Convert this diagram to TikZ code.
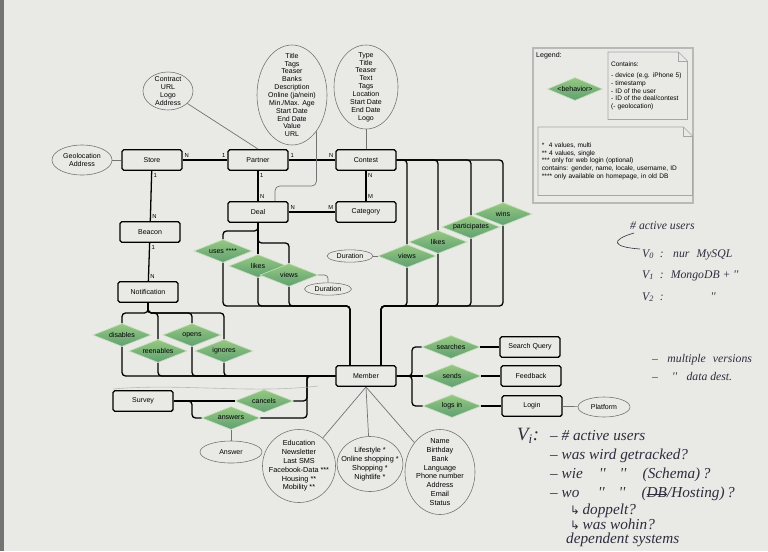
\documentclass[tikz,border=0pt]{standalone}
\usepackage{fontspec}
\setmainfont{Liberation Sans}
\newfontfamily\handfont{Liberation Serif}
\newfontfamily\symfont{DejaVu Sans}
\usetikzlibrary{shapes.geometric,calc}
\definecolor{paper}{RGB}{233,233,230}
\definecolor{relTop}{RGB}{150,200,128}
\definecolor{relBot}{RGB}{96,160,116}
\definecolor{attrLine}{RGB}{115,115,115}
\definecolor{ink}{RGB}{45,45,62}
\tikzset{
  entity/.style={draw, line width=1.1pt, rounded corners=1.5pt, minimum width=1.8cm, minimum height=0.62cm, inner sep=0pt},
  rel/.style={diamond, aspect=2.5, inner sep=0pt, minimum width=1.74cm, minimum height=0.69cm, top color=relTop, bottom color=relBot, draw=relTop!55!white, line width=0.5pt},
  attr/.style={ellipse, draw=attrLine, line width=0.5pt, inner sep=0pt},
  attrtxt/.style={align=center, inner sep=0pt},
  conn/.style={line width=1.1pt, rounded corners=3pt},
  aline/.style={draw=attrLine, line width=0.6pt},
  card/.style={font=\fontsize{5}{5}\selectfont, inner sep=1.2pt},
  note/.style={anchor=north west, align=left, inner xsep=0.07cm, font=\fontsize{5.6}{6.5}\selectfont},
  notefr/.style={draw=gray!70, line width=0.5pt},
  hand/.style={font=\handfont\itshape\fontsize{10}{10}\selectfont, text=ink, anchor=base west, inner sep=0pt},
  bighand/.style={hand, font=\handfont\itshape\fontsize{13}{13}\selectfont},
}
\newcommand\dogear[1]{%
  \draw[notefr] (#1.north west) -- ([xshift=-0.27cm]#1.north east) -- ([yshift=-0.27cm]#1.north east) -- (#1.south east) -- (#1.south west) -- cycle;
  \draw[notefr] ([xshift=-0.27cm]#1.north east) |- ([yshift=-0.27cm]#1.north east);}
\newcommand\crossout[1]{{\setbox0\hbox{#1}\rlap{\copy0}\rule[0.3ex]{\wd0}{0.8pt}}}

\begin{document}
\begin{tikzpicture}[x=0.03cm,y=-0.03cm,font=\fontsize{6}{6.7}\selectfont]
\useasboundingbox (0,0) rectangle (768,551);
\fill[paper] (0,0) rectangle (768,551);
\fill[black!55] (0,0) rectangle (4,551);

\foreach \n/\x/\y/\t in {store/152/160/Store, partner/258/160/Partner, contest/366/160/Contest,
  deal/258/212/Deal, category/366/212/Category, beacon/150/232/Beacon, notif/148/292/Notification,
  member/366/376/Member, survey/143/401/Survey, squery/530/347/Search Query,
  feedback/531/376/Feedback, login/532/406/Login}
  \node[entity] (\n) at (\x,\y) {\t};

\foreach \n/\x/\y/\t in {duses/223/251/{uses ****}, dlikes/258/266/likes, dviews/289/275/views,
  cviews/407/256/views, clikes/438/242/likes, cpart/471/227/participates, cwins/503/214/wins,
  ndis/122/335/disables, nren/158/351/reenables, nopen/192/335/opens, nign/224/351/ignores,
  scancel/264/401/cancels, sans/231/418/answers,
  msearch/451/347/searches, msend/452/376/sends, mlogin/452/406/logs in}
  \node[rel] (\n) at (\x,\y) {\t};

\node[attr, minimum width=1.8cm, minimum height=0.9cm, label={[attrtxt]center:{Geolocation\\Address}}] (geo) at (82,160) {};
\node[attr, minimum width=1.5cm, minimum height=1.14cm, label={[attrtxt]center:{Contract\\URL\\Logo\\Address}}] (contract) at (168,91) {};
\node[attr, minimum width=2.1cm, minimum height=3cm, label={[attrtxt]center:{Title\\Tags\\Teaser\\Banks\\Description\\Online (ja/nein)\\Min./Max. Age\\Start Date\\End Date\\Value\\URL}}] (dattr) at (292,95) {};
\node[attr, minimum width=1.92cm, minimum height=2.52cm, label={[attrtxt]center:{Type\\Title\\Teaser\\Text\\Tags\\Location\\Start Date\\End Date\\Logo}}] (cattr) at (366,87) {};
\node[attr, minimum width=1.38cm, minimum height=0.37cm] (cdur) at (350,256) {Duration};
\node[attr, minimum width=1.41cm, minimum height=0.37cm] (ddur) at (328,289) {Duration};
\node[attr, minimum width=1.56cm, minimum height=0.6cm] (platform) at (604,407) {Platform};
\node[attr, minimum width=1.86cm, minimum height=0.66cm] (answer) at (231,452) {Answer};
\node[attr, minimum width=2.19cm, minimum height=2.19cm, label={[attrtxt, font=\fontsize{6.2}{7.5}\selectfont]center:{Education\\Newsletter\\Last SMS\\Facebook-Data ***\\Housing **\\Mobility **}}] (edu) at (299,466) {};
\node[attr, minimum width=1.98cm, minimum height=1.65cm, label={[attrtxt, font=\fontsize{6.2}{7.5}\selectfont]center:{Lifestyle *\\Online shopping *\\Shopping *\\Nightlife *}}] (life) at (370,464) {};
\node[attr, minimum width=2.1cm, minimum height=2.55cm, label={[attrtxt, font=\fontsize{6.2}{7.5}\selectfont]center:{Name\\Birthday\\Bank\\Language\\Phone number\\Address\\Email\\Status}}] (pers) at (440,472) {};

\draw[conn] (store) -- node[card, above right, pos=0] {N} node[card, above left, pos=1] {1} (partner);
\draw[conn] (partner) -- node[card, above right, pos=0] {1} node[card, above left, pos=1] {N} (contest);
\draw[conn] (store) -- node[card, below right, pos=0] {1} node[card, above right, pos=1] {N} (beacon);
\draw[conn] (beacon) -- node[card, below right, pos=0] {1} node[card, above right, pos=1] {N} (notif);
\draw[conn] (partner) -- node[card, below right, pos=0] {1} node[card, above right, pos=1] {N} (deal);
\draw[conn] (deal) -- node[card, above right, pos=0] {N} node[card, above left, pos=1] {M} (category);
\draw[conn] (contest) -- node[card, below right, pos=0] {N} node[card, above right, pos=1] {M} (category);

\coordinate (dbus) at (350,306);
\draw[conn] (deal.south) -- ++(0,8) -| (duses.north);
\draw[conn] (deal.south) -- (dlikes.north);
\draw[conn] (deal.south) -- ++(0,20) -| (dviews.north);
\foreach \r in {duses,dlikes,dviews}
  \draw[conn] (\r.south) |- (dbus) -- (dbus |- member.north);

\coordinate (cbus) at (381,306);
\foreach \r in {cviews,clikes,cpart,cwins}{
  \draw[conn] (contest.east) -| (\r.north);
  \draw[conn] (\r.south) |- (cbus) -- (cbus |- member.north);
}

\foreach \r in {ndis,nren,nopen,nign}{
  \draw[conn] (notif.south) -- ++(0,10) -| (\r.north);
  \draw[conn] (\r.south) |- (member.west);
}

\coordinate (sv) at (192,401);
\coordinate (mv) at (307,376);
\draw[conn] (survey) -- (scancel);
\draw[conn] (survey.east) -- (sv) |- (sans.west);
\draw[conn] (scancel.east) -| (mv) -- (member.west);
\draw[conn] (sans.east) -| (mv);

\coordinate (mr) at (412,376);
\draw[conn] (member) -- (msend);
\draw[conn] (member.east) -- (mr) |- (msearch.west);
\draw[conn] (member.east) -- (mr) |- (mlogin.west);
\draw[conn] (msearch) -- (squery);
\draw[conn] (msend) -- (feedback);
\draw[conn] (mlogin) -- (login);

\coordinate (dk) at (275,186);
\draw[aline] (geo) -- (store);
\draw[aline] (contract) -- (partner.north);
\draw[aline, rounded corners=4pt] (dattr.-56) |- (dk) -- (dk |- deal.north);
\draw[aline] (cattr) -- (contest);
\draw[aline, rounded corners=3pt] (dviews.east) -| (ddur.north);
\draw[aline] (cdur) -- (cviews);
\draw[aline] (sans) -- (answer);
\draw[aline] (login) -- (platform);
\foreach \a in {edu,life,pers}
  \draw[aline] (member.south) -- (\a);

\node[draw=gray!55, line width=1pt, minimum width=4.8cm, minimum height=4.65cm] (legend) at (613,125.5) {};
\node[anchor=north west, inner sep=0pt] (legtitle) at (536,52) {Legend:};
\node[rel, minimum width=1.65cm] (legrel) at (575,89) {<behavior>};
\node[note, minimum width=2.37cm, minimum height=2.01cm, text width=2.2cm] (contains) at (608,52)
  {Contains:\\[3pt]- device (e.g. iPhone 5)\\- timestamp\\- ID of the user\\- ID of the deal/contest\\(- geolocation)};
\dogear{contains}
\node[note, minimum width=4.62cm, minimum height=2.04cm, text width=4.4cm] (stars) at (538,127)
  {*\ \ 4 values, multi\\\relax** 4 values, single\\\relax*** only for web login (optional)\\contains: gender, name, locale, username, ID\\\relax**** only available on homepage, in old DB};
\dogear{stars}

\draw[gray!55, line width=0.5pt] (113,389) .. controls (180,383) and (250,394) .. (318,386);

\node[hand] (hact) at (630,229) {\# active users};
\draw[ink, line width=0.5pt] (634,233) .. controls (610,240) and (612,247) .. (640,249);
\node[hand] (hv0) at (642,257) {V\textsubscript{0}\hspace{5pt}:\hspace{8pt}nur\hspace{6pt}MySQL};
\node[hand] (hv1) at (642,278) {V\textsubscript{1}\hspace{5pt}:\hspace{6pt}MongoDB + ''};
\node[hand] (hv2) at (642,300) {V\textsubscript{2}\hspace{5pt}:\hspace{40pt}''};
\node[hand] (hmv) at (652,362) {–\hspace{8pt}multiple\hspace{6pt}versions};
\node[hand] (hdd) at (652,380) {–\hspace{12pt}''\hspace{8pt}data dest.};

\node[bighand, font=\handfont\itshape\fontsize{16}{16}\selectfont] (hvi) at (517,440) {V\textsubscript{i}:};
\node[bighand] (hb1) at (550,440) {– \# active users};
\node[bighand] (hb2) at (550,459) {– was wird getracked?};
\node[bighand] (hb3) at (550,478) {– wie\hspace{14pt}''\hspace{12pt}''\hspace{14pt}(Schema)\,?};
\node[bighand] (hb4) at (550,497) {– wo\hspace{16pt}''\hspace{12pt}''\hspace{14pt}(\crossout{DB}/Hosting)\,?};
\node[bighand] (hb5) at (570,514) {{\symfont\fontsize{10}{10}\selectfont ↳}\,doppelt?};
\node[bighand] (hb6) at (570,529) {{\symfont\fontsize{10}{10}\selectfont ↳}\,was wohin?};
\node[bighand] (hb7) at (566,543) {dependent systems};
\end{tikzpicture}
\end{document}
